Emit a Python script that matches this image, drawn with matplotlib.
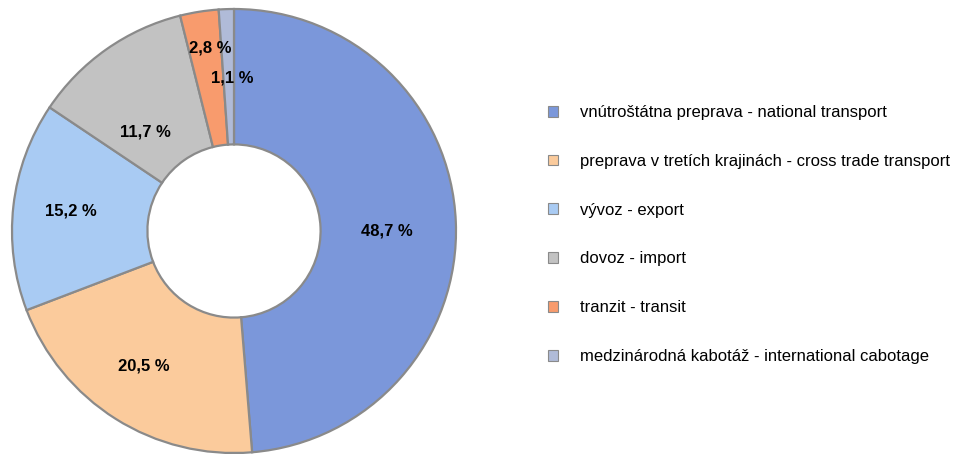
import matplotlib
matplotlib.use("Agg")
import matplotlib.pyplot as plt
import numpy as np
from matplotlib import font_manager
from matplotlib.patches import Patch

categories = [
    "vnútroštátna preprava - national transport",
    "preprava v tretích krajinách - cross trade transport",
    "vývoz - export",
    "dovoz - import",
    "tranzit - transit",
    "medzinárodná kabotáž - international cabotage",
]
values = [48.7, 20.5, 15.2, 11.7, 2.8, 1.1]
value_labels = ["48,7 %", "20,5 %", "15,2 %", "11,7 %", "2,8 %", "1,1 %"]
colors = ["#7b97da", "#fbcb9c", "#a9cbf3", "#c2c2c2", "#f89b6d", "#b0bbd8"]

names = {f.name for f in font_manager.fontManager.ttflist}
fam = "Liberation Sans Narrow" if "Liberation Sans Narrow" in names else "Liberation Sans"

W, H = 961, 457
fig = plt.figure(figsize=(W / 100, H / 100), dpi=100)
cx, cy, R = 234, 231, 222
ax = fig.add_axes([(cx - R) / W, 1 - (cy + R) / H, 2 * R / W, 2 * R / H])

wedges, _ = ax.pie(values, colors=colors, startangle=90, counterclock=False,
                   radius=1.0,
                   wedgeprops=dict(width=0.61, edgecolor="#8a8a8a", linewidth=1.6))
ax.set_xlim(-1, 1)
ax.set_ylim(-1, 1)
ax.set_aspect("equal")
ax.axis("off")

label_dist = [0.69, 0.73, 0.74, 0.60, 0.83, 0.69]
label_shift = [-2.3, -1.5, -0.5, 6.6, -1.6, -1.3]
for w, lab, d, s in zip(wedges, value_labels, label_dist, label_shift):
    ang = np.deg2rad((w.theta1 + w.theta2) / 2 + s)
    ax.text(d * np.cos(ang), d * np.sin(ang), lab, ha="center", va="center",
            fontsize=12, fontweight="bold", family=fam, color="black")

handles = [Patch(facecolor=c, edgecolor="#8a8a8a", linewidth=0.8) for c in colors]
leg = fig.legend(handles, categories, loc="upper left",
                 bbox_to_anchor=(533 / W, 1 - 90 / H), frameon=False,
                 prop=dict(family=fam, size=12),
                 handlelength=0.62, handleheight=0.62, handletextpad=1.3,
                 labelspacing=2.03)

fig.savefig("out.png", dpi=100)
